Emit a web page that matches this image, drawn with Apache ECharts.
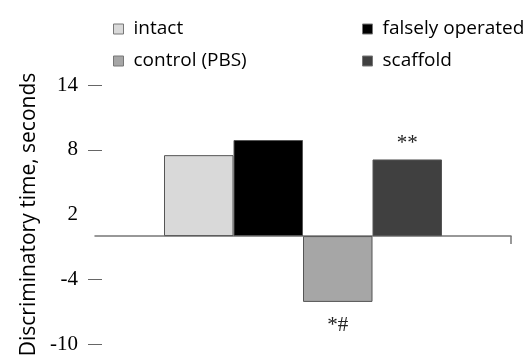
<!DOCTYPE html>
<html>
<head>
<meta charset="utf-8">
<script src="https://cdn.jsdelivr.net/npm/echarts@6/dist/echarts.min.js"></script>
<style>html,body{margin:0;padding:0;background:#fff;}#c{width:528px;height:362px;}</style>
</head>
<body>
<div id="c"></div>
<script>
var groups = ['intact', 'falsely operated', 'control (PBS)', 'scaffold'];
var values = [7.5, 8.9, -6.1, 7.1];
var annotations = ['', '', '*#', '**'];
var colors = ['#d9d9d9', '#000000', '#a6a6a6', '#404040'];
var yTicks = [-10, -4, 2, 8, 14];
var yTickMarks = [-10, -4, 8, 14];
var yTitle = 'Discriminatory time, seconds';

var chart = echarts.init(document.getElementById('c'), null, {renderer: 'canvas'});
var series = groups.map(function (g, i) {
  return {
    name: g,
    type: 'bar',
    data: [values[i]],
    barWidth: 69.5,
    barGap: '0%',
    itemStyle: {color: colors[i], borderColor: '#555', borderWidth: 1},
    label: {
      show: annotations[i] !== '',
      position: values[i] < 0 ? 'bottom' : 'top',
      distance: values[i] < 0 ? 13 : 5,
      formatter: function () { return annotations[i]; },
      fontFamily: 'Liberation Serif',
      fontSize: 21,
      color: '#222'
    }
  };
});
var legendCommon = {
  orient: 'vertical',
  icon: 'rect',
  itemWidth: 10,
  itemHeight: 10,
  itemGap: 12,
  itemStyle: {borderColor: '#777', borderWidth: 1},
  textStyle: {fontFamily: 'Open Sans', fontSize: 19, color: '#000', lineHeight: 20, padding: [0, 0, 0, 5]},
  selectedMode: false
};
chart.setOption({
  animation: false,
  backgroundColor: '#fff',
  grid: {left: 95, right: 17, top: 85, bottom: 18},
  legend: [
    Object.assign({left: 108, top: 14, data: [groups[0], groups[2]]}, legendCommon),
    Object.assign({left: 357, top: 14, data: [groups[1], groups[3]]}, legendCommon)
  ],
  xAxis: [{
    type: 'category',
    data: [''],
    axisLine: {onZero: true, lineStyle: {color: '#777', width: 1.5}},
    axisTick: {show: false},
    axisLabel: {show: false},
    splitLine: {show: false}
  }, {
    type: 'value',
    position: 'bottom',
    min: 0,
    max: 1,
    axisLine: {show: true, onZero: true, onZeroAxisIndex: 0, lineStyle: {color: '#777', width: 1.5, opacity: 0}},
    axisTick: {show: true, length: 8, customValues: [1], lineStyle: {color: '#777', width: 1.5}},
    axisLabel: {show: false},
    splitLine: {show: false}
  }],
  yAxis: {
    type: 'value',
    min: -10,
    max: 14,
    offset: -7,
    name: yTitle,
    nameLocation: 'middle',
    nameGap: 60,
    nameTextStyle: {fontFamily: 'Open Sans', fontSize: 21, color: '#000'},
    axisLine: {show: false},
    splitLine: {show: false},
    axisTick: {show: true, length: 14, customValues: yTickMarks, lineStyle: {color: '#666', width: 1}},
    axisLabel: {customValues: yTicks, margin: 24, fontFamily: 'Liberation Serif', fontSize: 21, color: '#000'}
  },
  series: series
});
</script>
</body>
</html>
